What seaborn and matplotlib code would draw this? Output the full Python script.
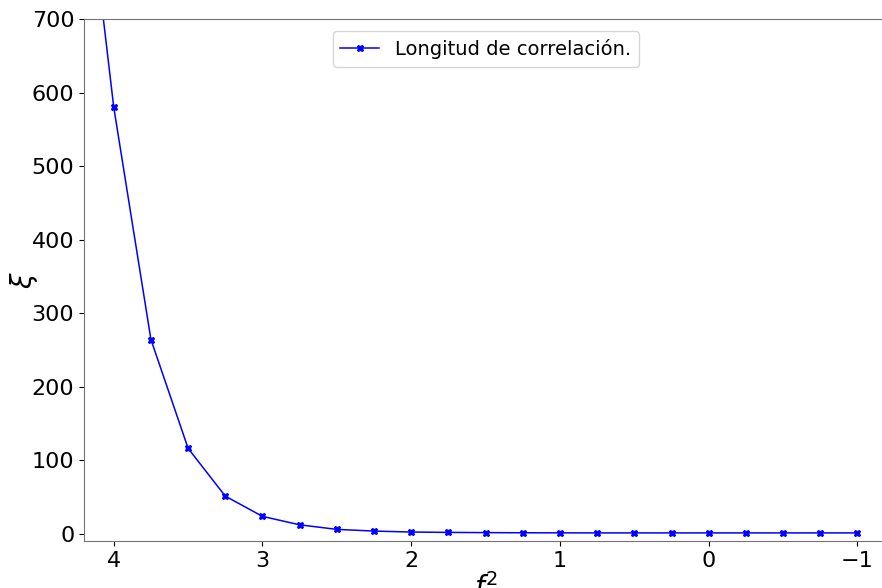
import matplotlib
matplotlib.use("Agg")
import matplotlib.pyplot as plt
import seaborn as sns
import pandas as pd

# f^2 values and correlation length
f2 = [4.25, 4.0, 3.75, 3.5, 3.25, 3.0, 2.75, 2.5, 2.25, 2.0, 1.75, 1.5, 1.25,
      1.0, 0.75, 0.5, 0.25, 0.0, -0.25, -0.5, -0.75, -1.0]
xi = [1010, 580, 264, 116, 51, 23.5, 12, 5.8, 3.5, 2.2, 1.7, 1.4, 1.2,
      1.1, 1.0, 1.0, 1.0, 1.0, 1.0, 1.0, 1.0, 1.0]

df = pd.DataFrame({"f2": f2, "xi": xi})

fig = plt.figure(figsize=(8.82, 5.88), dpi=100)
# axes runs past the right edge, like the cropped original
ax = fig.add_axes([84 / 882, 47 / 588, 830 / 882, 522 / 588])

sns.lineplot(data=df, x="f2", y="xi", ax=ax, color="blue", marker="X",
             markersize=5, markeredgecolor="blue", linewidth=1.1,
             label="Longitud de correlación.")

ax.set_xlim(4.2, -1.38)
ax.set_ylim(-10, 700)
ax.set_xticks([4, 3, 2, 1, 0, -1])
ax.set_yticks([0, 100, 200, 300, 400, 500, 600, 700])
ax.tick_params(labelsize=16)
ax.set_xlabel(r"$f^2$", fontsize=20, labelpad=2, x=0.484)
ax.set_ylabel(r"$\xi$", fontsize=20, labelpad=-6)
for s in ax.spines.values():
    s.set_color("0.45")
ax.legend(loc="upper center", fontsize=14, bbox_to_anchor=(0.484, 0.995))

fig.savefig("out.png", dpi=100)
